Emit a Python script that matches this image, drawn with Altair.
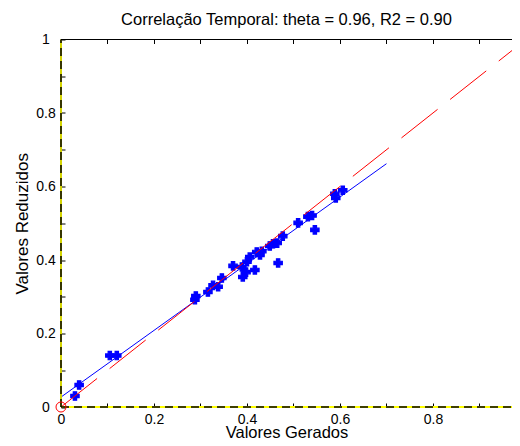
import altair as alt
import pandas as pd

# ---- data ----
gerados = [0.030, 0.039, 0.105, 0.120, 0.288, 0.290, 0.316, 0.327, 0.338, 0.346,
           0.370, 0.389, 0.391, 0.398, 0.400, 0.406, 0.417, 0.421, 0.428, 0.432,
           0.449, 0.456, 0.465, 0.467, 0.477, 0.510, 0.531, 0.540, 0.546, 0.589,
           0.591, 0.606]
reduzidos = [0.030, 0.060, 0.140, 0.140, 0.292, 0.302, 0.313, 0.331, 0.327, 0.351,
             0.384, 0.381, 0.354, 0.367, 0.395, 0.408, 0.373, 0.422, 0.414, 0.424,
             0.438, 0.444, 0.446, 0.392, 0.465, 0.501, 0.518, 0.521, 0.482, 0.580,
             0.569, 0.590]
fit_x = [0.0, 0.70]
fit_y = [0.027, 0.662]
ident_v = [0.0, 1.0]
x_ticks = [0.0, 0.1, 0.2, 0.3, 0.4, 0.5, 0.6, 0.7, 0.8, 0.9]
y_ticks = [0.0, 0.1, 0.2, 0.3, 0.4, 0.5, 0.6, 0.7, 0.8, 0.9, 1.0]
x_max = 0.97
title_text = "Correlação Temporal: theta = 0.96, R2 = 0.90"
x_title = "Valores Gerados"
y_title = "Valores Reduzidos"

FONT = "Liberation Sans"
xs = alt.Scale(domain=[0, x_max], nice=False, zero=False)
ys = alt.Scale(domain=[0, 1], nice=False, zero=False)
lab_expr = "round(datum.value*10) % 2 == 0 ? '' + round(datum.value*10)/10 : ''"

x_axis_bottom = alt.Axis(orient="bottom", values=x_ticks, offset=-4, tickSize=4,
                         domain=False, grid=False, labelExpr=lab_expr, labelPadding=5,
                         labelFont=FONT, labelFontSize=14, labelColor="black",
                         labelOverlap=False, labelFlush=False,
                         tickColor="black", tickWidth=1,
                         title=x_title, titleFont=FONT, titleFontSize=16.5,
                         titleFontWeight="normal", titleColor="black",
                         titleBaseline="alphabetic", titleY=34.5)
y_axis_left = alt.Axis(orient="left", values=y_ticks, offset=-4, tickSize=4,
                       domain=False, grid=False, labelExpr=lab_expr, labelPadding=15.5,
                       labelAlign="center", labelBaseline="middle",
                       labelFont=FONT, labelFontSize=14, labelColor="black",
                       labelOverlap=False, labelFlush=False,
                       tickColor="black", tickWidth=1,
                       title=y_title, titleFont=FONT, titleFontSize=17,
                       titleFontWeight="normal", titleColor="black",
                       titleBaseline="alphabetic", titleX=-38)
x_axis_top = alt.Axis(orient="top", values=x_ticks, offset=-4, tickSize=4,
                      domain=False, grid=False, labels=False, title=None,
                      tickColor="black", tickWidth=1)

pts_df = pd.DataFrame({"gerado": gerados, "reduzido": reduzidos})
fit_df = pd.DataFrame({"x": fit_x, "y": fit_y})
ident_df = pd.DataFrame({"x": ident_v, "y": ident_v})
hline_df = pd.DataFrame({"hx": [0.0, x_max], "hy": [0.0, 0.0]})
vline_df = pd.DataFrame({"vx": [0.0, 0.0], "vy": [0.0, 1.0]})
top_df = pd.DataFrame({"tx": [0.0, x_max], "ty": [1.0, 1.0]})
origin_df = pd.DataFrame({"ox": [0.0], "oy": [0.0]})


def seg(df, xf, yf, axis_x=None, **mk):
    return alt.Chart(df).mark_line(**mk).encode(
        x=alt.X(f"{xf}:Q", scale=xs, axis=axis_x),
        y=alt.Y(f"{yf}:Q", scale=ys, axis=None),
        order=alt.Order(f"{yf}:Q"),
    )


points = alt.Chart(pts_df).mark_point(
    shape="cross", filled=True, size=70, color="#0000ff", stroke="#0000ff",
    strokeWidth=1.2, opacity=1
).encode(
    x=alt.X("gerado:Q", scale=xs, axis=x_axis_bottom),
    y=alt.Y("reduzido:Q", scale=ys, axis=y_axis_left),
)

fit = seg(fit_df, "x", "y", color="#0000ff", strokeWidth=1)
ident = seg(ident_df, "x", "y", color="#ff0000", strokeWidth=1,
            strokeDash=[46, 16], clip=True)
h_yellow = seg(hline_df, "hx", "hy", axis_x=x_axis_top, color="#ffff00", strokeWidth=2)
v_yellow = seg(vline_df, "vx", "vy", color="#d4d400", strokeWidth=2)
h_black = seg(hline_df, "hx", "hy", color="black", strokeWidth=1.5, strokeDash=[8, 5])
v_black = seg(vline_df, "vx", "vy", color="black", strokeWidth=1.5, strokeDash=[8, 5])
top_border = seg(top_df, "tx", "ty", color="black", strokeWidth=1)

origin = alt.Chart(origin_df).mark_point(shape="circle", size=100, filled=False,
                                         color="#ff0000", strokeWidth=1,
                                         opacity=1).encode(
    x=alt.X("ox:Q", scale=xs, axis=None),
    y=alt.Y("oy:Q", scale=ys, axis=None),
)

chart = alt.layer(
    points, fit, ident, h_yellow, v_yellow, h_black, v_black, top_border, origin
).resolve_axis(x="independent", y="independent").properties(
    width=451, height=367.5,
    padding={"left": 53, "top": 31.5, "right": 0, "bottom": 31},
    autosize=alt.AutoSizeParams(type="none"),
    background="white",
    title=alt.Title(title_text, font=FONT, fontSize=16.5, fontWeight="normal",
                    color="black", anchor="middle", frame="group",
                    baseline="alphabetic", offset=-9),
).configure_view(stroke=None)

chart.save("out.html", embed_options={"renderer": "svg", "actions": False})
